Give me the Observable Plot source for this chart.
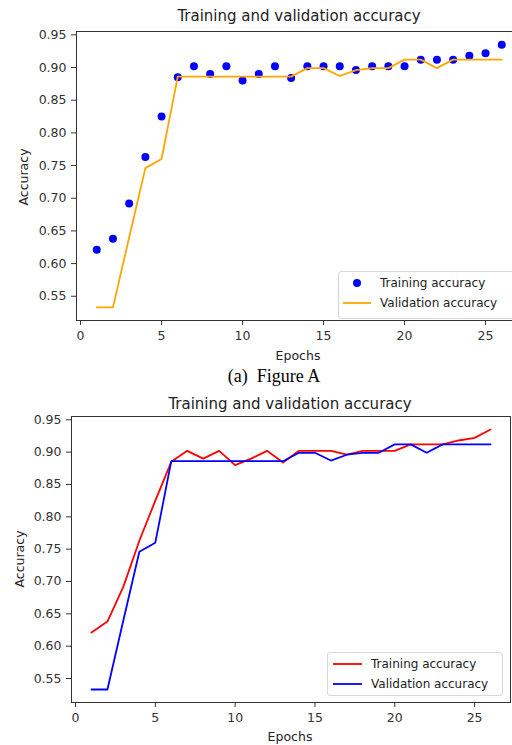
<!DOCTYPE html>
<html>
<head>
<meta charset="utf-8">
<script src="https://cdn.jsdelivr.net/npm/d3@7"></script>
<script src="https://cdn.jsdelivr.net/npm/@observablehq/plot@0.6"></script>
<style>
html, body { margin: 0; padding: 0; background: #fff; }
#page { position: relative; width: 512px; height: 745px; overflow: hidden; font-family: "DejaVu Sans", sans-serif; color: #222; }
.abs { position: absolute; white-space: nowrap; }
.title { font-size: 15px; transform: translate(-50%, -50%); }
.xlabel { font-size: 12.5px; transform: translate(-50%, -50%); }
.ylabel { font-size: 12.5px; transform: translate(-50%, -50%) rotate(-90deg); }
.caption { font-family: "Liberation Serif", "Times New Roman", serif; font-size: 18px; transform: translate(-50%, -50%); color: #000; }
.legend { position: absolute; border: 1px solid #d8d8d8; border-radius: 3px; background: rgba(255,255,255,0.85); font-size: 12px; color: #222; box-sizing: border-box; }
.row { position: absolute; left: 0; height: 16px; display: flex; align-items: center; white-space: nowrap; }
.row svg { display: block; }
.chart { position: absolute; left: 0; }
.chart svg { display: block; overflow: visible; max-width: none !important; }
</style>
</head>
<body>
<div id="page"></div>
<script>
// ---- data ----
const epochs = [1,2,3,4,5,6,7,8,9,10,11,12,13,14,15,16,17,18,19,20,21,22,23,24,25,26];
const trainAcc = [0.621,0.638,0.692,0.763,0.825,0.885,0.902,0.890,0.902,0.880,0.890,0.902,0.884,0.902,0.902,0.902,0.896,0.902,0.902,0.902,0.912,0.912,0.912,0.918,0.922,0.935];
const valAcc = [0.533,0.533,0.640,0.746,0.760,0.886,0.886,0.886,0.886,0.886,0.886,0.886,0.886,0.899,0.899,0.887,0.896,0.899,0.899,0.912,0.912,0.899,0.912,0.912,0.912,0.912];
const xTicks = [0,5,10,15,20,25];
const yTicks = [0.55,0.60,0.65,0.70,0.75,0.80,0.85,0.90,0.95];
const titleText = "Training and validation accuracy";
const xLabel = "Epochs";
const yLabel = "Accuracy";
const trainLabel = "Training accuracy";
const valLabel = "Validation accuracy";
const captionText = "(a)\u2002Figure A";

const rows = epochs.map((e, i) => ({epoch: e, train: trainAcc[i], val: valAcc[i]}));
const xDomain = [-0.25, 27.25];
const yDomain = [0.5129, 0.9551];

const page = document.getElementById("page");

function addText(cls, text, x, y) {
  const d = document.createElement("div");
  d.className = "abs " + cls;
  d.textContent = text;
  d.style.left = x + "px";
  d.style.top = y + "px";
  page.appendChild(d);
}

function axes() {
  return [
    Plot.frame({stroke: "#333", strokeWidth: 1}),
    Plot.axisX(xTicks, {tickSize: 5, tickPadding: 6, label: null}),
    Plot.axisY(yTicks, {tickSize: 5, tickPadding: 5, tickFormat: d3.format(".2f"), label: null})
  ];
}
const style = {fontFamily: "DejaVu Sans, sans-serif", fontSize: "12.5px", color: "#333", background: "transparent", overflow: "visible", maxWidth: "none"};

// ---- Figure A ----
const chartA = Plot.plot({
  width: 530, height: 345,
  marginTop: 31, marginBottom: 25, marginLeft: 76, marginRight: 8.5,
  x: {domain: xDomain},
  y: {domain: yDomain},
  style,
  marks: [
    ...axes(),
    Plot.dot(rows, {x: "epoch", y: "train", r: 4, fill: "#0000ff", stroke: "none"}),
    Plot.line(rows, {x: "epoch", y: "val", stroke: "#ffa500", strokeWidth: 1.8})
  ]
});
const wa = document.createElement("div");
wa.className = "chart"; wa.style.top = "0px"; wa.style.width = "530px";
wa.appendChild(chartA);
page.appendChild(wa);

// ---- Figure B ----
const chartB = Plot.plot({
  width: 512, height: 355,
  marginTop: 26, marginBottom: 43, marginLeft: 71, marginRight: 2,
  x: {domain: xDomain},
  y: {domain: yDomain},
  style,
  marks: [
    ...axes(),
    Plot.line(rows, {x: "epoch", y: "train", stroke: "#ff0000", strokeWidth: 1.8}),
    Plot.line(rows, {x: "epoch", y: "val", stroke: "#0000ff", strokeWidth: 1.8})
  ]
});
const wb = document.createElement("div");
wb.className = "chart"; wb.style.top = "390px"; wb.style.width = "512px";
wb.appendChild(chartB);
page.appendChild(wb);

// ---- texts ----
addText("title", titleText, 299, 16);
addText("xlabel", xLabel, 298, 355);
addText("ylabel", yLabel, 23, 177);
addText("caption", captionText, 274, 375.5);
addText("title", titleText, 290, 404);
addText("xlabel", xLabel, 290, 735.5);
addText("ylabel", yLabel, 18.5, 559);

// ---- legends ----
function legend(left, top, width, height, items) {
  const box = document.createElement("div");
  box.className = "legend";
  Object.assign(box.style, {left: left + "px", top: top + "px", width: width + "px", height: height + "px"});
  items.forEach((it) => {
    const r = document.createElement("div");
    r.className = "row";
    r.style.top = it.cy - 8 + "px";
    r.style.left = it.sx + "px";
    const ns = "http://www.w3.org/2000/svg";
    const s = document.createElementNS(ns, "svg");
    s.setAttribute("width", it.sw); s.setAttribute("height", 16);
    if (it.kind === "dot") {
      const c = document.createElementNS(ns, "circle");
      c.setAttribute("cx", it.sw / 2); c.setAttribute("cy", 8); c.setAttribute("r", 4);
      c.setAttribute("fill", it.color);
      s.appendChild(c);
    } else {
      const l = document.createElementNS(ns, "line");
      l.setAttribute("x1", 0); l.setAttribute("x2", it.sw); l.setAttribute("y1", 8); l.setAttribute("y2", 8);
      l.setAttribute("stroke", it.color); l.setAttribute("stroke-width", 1.8);
      s.appendChild(l);
    }
    r.appendChild(s);
    const t = document.createElement("span");
    t.textContent = it.label;
    t.style.marginLeft = it.gap + "px";
    r.appendChild(t);
    box.appendChild(r);
  });
  page.appendChild(box);
}
legend(338, 271, 182, 48, [
  {kind: "dot", color: "#0000ff", label: trainLabel, cy: 11, sx: 4, sw: 28, gap: 9},
  {kind: "line", color: "#ffa500", label: valLabel, cy: 31, sx: 4, sw: 28, gap: 9}
]);
legend(327, 652, 176, 44, [
  {kind: "line", color: "#ff0000", label: trainLabel, cy: 11, sx: 5, sw: 29, gap: 9},
  {kind: "line", color: "#0000ff", label: valLabel, cy: 31, sx: 5, sw: 29, gap: 9}
]);
</script>
</body>
</html>
